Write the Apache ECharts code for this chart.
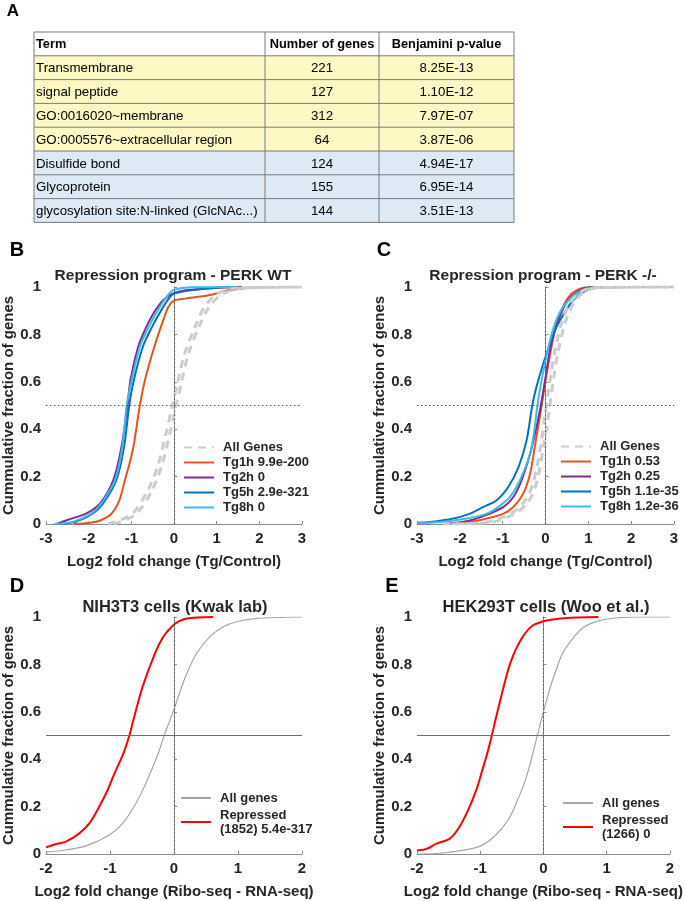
<!DOCTYPE html>
<html>
<head>
<meta charset="utf-8">
<script src="https://cdn.jsdelivr.net/npm/echarts@6/dist/echarts.min.js"></script>
<style>
  html, body { margin: 0; padding: 0; background: #fff; }
  #chart { width: 685px; height: 901px; }
</style>
</head>
<body>
<div id="chart"></div>
<script>
// ---- A: enrichment table ----
const tableHeader = ['Term', 'Number of genes', 'Benjamini p-value'];
const terms = ['Transmembrane', 'signal peptide', 'GO:0016020~membrane', 'GO:0005576~extracellular region',
  'Disulfide bond', 'Glycoprotein', 'glycosylation site:N-linked (GlcNAc...)'];
const geneCounts = [221, 127, 312, 64, 124, 155, 144];
const pValues = ['8.25E-13', '1.10E-12', '7.97E-07', '3.87E-06', '4.94E-17', '6.95E-14', '3.51E-13'];
const termGroup = ['y', 'y', 'y', 'y', 'b', 'b', 'b'];

// ---- B: PERK WT, [log2FC, cumulative fraction] ----
const wtAllA = [[-1.55,0],[-1.0,0.04],[-0.62,0.14],[-0.37,0.25],[-0.19,0.38],[-0.05,0.49],[0.09,0.6],[0.25,0.72],[0.49,0.83],[0.71,0.915],[1.0,0.97],[1.5,0.996],[3,1]];
const wtAllB = [[-1.42,0],[-0.9,0.04],[-0.52,0.14],[-0.28,0.25],[-0.1,0.38],[0.04,0.49],[0.18,0.6],[0.34,0.72],[0.58,0.83],[0.82,0.915],[1.13,0.97],[1.63,0.996],[3,1]];
const wtTg1h = [[-2.35,0],[-2.0,0.004],[-1.7,0.017],[-1.46,0.045],[-1.28,0.1],[-1.15,0.186],[-1.05,0.25],[-0.95,0.326],[-0.8,0.5],[-0.68,0.608],[-0.46,0.748],[-0.25,0.861],[-0.13,0.917],[0,0.942],[0.3,0.952],[0.84,0.966],[1.31,0.987],[2.0,0.999],[2.53,1]];
const wtTg2h = [[-2.75,0],[-2.5,0.017],[-2.05,0.045],[-1.73,0.087],[-1.42,0.186],[-1.23,0.326],[-1.09,0.5],[-1.02,0.608],[-0.84,0.748],[-0.68,0.819],[-0.48,0.889],[-0.25,0.945],[-0.02,0.973],[0.3,0.987],[1.0,0.996],[1.6,1]];
const wtTg5h = [[-2.7,0],[-2.3,0.01],[-1.9,0.045],[-1.66,0.087],[-1.35,0.186],[-1.17,0.326],[-1.05,0.5],[-0.94,0.608],[-0.73,0.748],[-0.55,0.819],[-0.34,0.889],[-0.09,0.959],[0.02,0.973],[0.45,0.987],[1.1,1]];
const wtTg8h = [[-2.8,0],[-2.36,0.01],[-1.93,0.045],[-1.7,0.087],[-1.38,0.186],[-1.21,0.326],[-1.11,0.5],[-0.99,0.608],[-0.8,0.748],[-0.625,0.819],[-0.42,0.889],[-0.17,0.959],[-0.02,0.987],[0.45,0.999],[1.45,1]];

// ---- C: PERK -/- ----
const koAllA = [[-2.4,0],[-1.37,0.008],[-0.8,0.045],[-0.47,0.1],[-0.28,0.18],[-0.12,0.32],[-0.01,0.46],[0.1,0.6],[0.22,0.73],[0.38,0.85],[0.6,0.94],[0.88,0.985],[1.25,0.998],[3,1]];
const koAllB = [[-2.2,0],[-1.25,0.008],[-0.7,0.045],[-0.38,0.1],[-0.2,0.18],[-0.05,0.32],[0.07,0.46],[0.18,0.6],[0.3,0.73],[0.46,0.85],[0.68,0.94],[0.96,0.985],[1.35,0.998],[3,1]];
const koTg1h = [[-2.4,0],[-1.76,0.008],[-1.37,0.023],[-0.98,0.044],[-0.75,0.072],[-0.52,0.128],[-0.36,0.212],[-0.25,0.325],[-0.09,0.5],[0.03,0.635],[0.14,0.748],[0.26,0.846],[0.49,0.945],[0.73,0.987],[1.04,0.999],[3,1]];
const koTg2h = [[-2.3,0],[-1.76,0.015],[-1.3,0.044],[-0.98,0.072],[-0.75,0.114],[-0.56,0.184],[-0.36,0.296],[-0.21,0.409],[-0.11,0.5],[-0.01,0.607],[0.12,0.748],[0.3,0.86],[0.53,0.945],[0.81,0.987],[1.04,0.999],[1.5,1]];
const koTg5h = [[-3,0.005],[-2.7,0.008],[-2.15,0.023],[-1.76,0.044],[-1.45,0.072],[-1.14,0.1],[-0.87,0.156],[-0.63,0.24],[-0.44,0.354],[-0.31,0.5],[-0.21,0.579],[-0.05,0.677],[0.18,0.8],[0.34,0.86],[0.65,0.945],[0.96,0.987],[1.27,0.998],[1.8,1]];
const koTg8h = [[-3,0.003],[-2.46,0.008],[-1.84,0.023],[-1.37,0.044],[-1.1,0.072],[-0.83,0.114],[-0.6,0.184],[-0.36,0.296],[-0.25,0.409],[-0.19,0.5],[-0.09,0.607],[0.07,0.748],[0.22,0.846],[0.42,0.917],[0.73,0.973],[1.12,0.999],[1.7,1]];

// ---- D: NIH3T3 ----
const nihAll = [[-2,0.008],[-1.69,0.017],[-1.375,0.034],[-1.01,0.08],[-0.8,0.13],[-0.594,0.214],[-0.44,0.298],[-0.245,0.425],[-0.156,0.498],[0.016,0.622],[0.12,0.706],[0.224,0.776],[0.354,0.847],[0.5625,0.917],[0.77,0.959],[0.98,0.98],[1.29,0.994],[2,1]];
const nihRepressed = [[-2,0.028],[-1.84,0.042],[-1.69,0.052],[-1.48,0.087],[-1.32,0.13],[-1.167,0.2],[-1.036,0.27],[-0.93,0.34],[-0.79,0.425],[-0.7,0.498],[-0.635,0.565],[-0.49,0.706],[-0.297,0.847],[-0.167,0.917],[-0.036,0.959],[0.068,0.98],[0.2,0.994],[0.61,1]];

// ---- E: HEK293T ----
const hekAll = [[-2,0],[-1.69,0.002],[-1.33,0.013],[-1.01,0.032],[-0.755,0.079],[-0.547,0.149],[-0.39,0.24],[-0.3,0.3],[-0.2,0.39],[-0.1,0.496],[-0.008,0.592],[0.11,0.705],[0.2,0.775],[0.3,0.845],[0.485,0.916],[0.64,0.958],[0.9,0.986],[1.2,0.997],[1.5,1],[2,1]];
const hekRepressed = [[-2,0.015],[-1.84,0.022],[-1.69,0.044],[-1.48,0.065],[-1.33,0.114],[-1.17,0.198],[-1.045,0.283],[-0.968,0.353],[-0.89,0.423],[-0.82,0.496],[-0.76,0.564],[-0.63,0.705],[-0.527,0.803],[-0.42,0.873],[-0.293,0.93],[-0.163,0.965],[-0.034,0.979],[0.07,0.986],[0.33,0.995],[0.87,1]];

const FONT = 'Liberation Sans, Arial, sans-serif';
const TXT = '#262626';
const AXC = '#8c8c8c';
const colors = { tg1: '#e2561e', tg2: '#7e2f8e', tg5: '#0072bd', tg8: '#3fb8ee', all: '#cccccc' };

const chart = echarts.init(document.getElementById('chart'));

// table drawing
const tLeft = 34, tRight = 514, tTop = 32, rowH = 23.8;
const colX = [34, 265, 379, 514];
const tableGfx = [];
const nRows = terms.length + 1;
for (let r = 0; r < nRows; r++) {
  const fill = r === 0 ? '#ffffff' : (termGroup[r - 1] === 'y' ? '#fdf8c4' : '#dde9f5');
  tableGfx.push({ type: 'rect', shape: { x: tLeft, y: tTop + r * rowH, width: tRight - tLeft, height: rowH }, style: { fill: fill } });
}
for (let r = 0; r <= nRows; r++) {
  tableGfx.push({ type: 'line', shape: { x1: tLeft, y1: tTop + r * rowH, x2: tRight, y2: tTop + r * rowH }, style: { stroke: '#7a7a7a', lineWidth: 1 } });
}
colX.forEach(x => {
  tableGfx.push({ type: 'line', shape: { x1: x, y1: tTop, x2: x, y2: tTop + nRows * rowH }, style: { stroke: '#7a7a7a', lineWidth: 1 } });
});
const cellFont = (bold) => (bold ? 'bold 12.8px ' : '13.3px ') + FONT;
tableHeader.forEach((h, i) => {
  tableGfx.push({ type: 'text', x: i === 0 ? colX[0] + 2 : (colX[i] + colX[i + 1]) / 2, y: tTop + rowH / 2 + 1,
    style: { text: h, font: cellFont(true), fill: '#000', align: i === 0 ? 'left' : 'center', verticalAlign: 'middle' } });
});
terms.forEach((t, k) => {
  const y = tTop + (k + 1.5) * rowH + 1;
  tableGfx.push({ type: 'text', x: colX[0] + 2, y: y, style: { text: t, font: cellFont(false), fill: '#000', align: 'left', verticalAlign: 'middle' } });
  tableGfx.push({ type: 'text', x: (colX[1] + colX[2]) / 2, y: y, style: { text: String(geneCounts[k]), font: cellFont(false), fill: '#000', align: 'center', verticalAlign: 'middle' } });
  tableGfx.push({ type: 'text', x: (colX[2] + colX[3]) / 2, y: y, style: { text: pValues[k], font: cellFont(false), fill: '#000', align: 'center', verticalAlign: 'middle' } });
});

// panel letters and titles
const label = (text, x, y, size) => ({ type: 'text', x: x, y: y,
  style: { text: text, font: 'bold ' + size + 'px ' + FONT, fill: '#000', align: 'center', verticalAlign: 'middle' } });
const titles = [
  label('A', 13, 11, 17), label('B', 17, 250, 20), label('C', 384, 250, 20), label('D', 17, 586, 20), label('E', 392, 586, 20),
  { type: 'text', x: 173, y: 276, style: { text: 'Repression program - PERK WT', font: 'bold 15.5px ' + FONT, fill: TXT, align: 'center', verticalAlign: 'middle' } },
  { type: 'text', x: 543, y: 276, style: { text: 'Repression program - PERK -/-', font: 'bold 15.5px ' + FONT, fill: TXT, align: 'center', verticalAlign: 'middle' } },
  { type: 'text', x: 175, y: 607, style: { text: 'NIH3T3 cells (Kwak lab)', font: 'bold 16.5px ' + FONT, fill: TXT, align: 'center', verticalAlign: 'middle' } },
  { type: 'text', x: 546, y: 607, style: { text: 'HEK293T cells (Woo et al.)', font: 'bold 16.5px ' + FONT, fill: TXT, align: 'center', verticalAlign: 'middle' } }
];

const grids = [
  { left: 46, top: 287, width: 256, height: 237 },
  { left: 417, top: 287, width: 257, height: 237 },
  { left: 46, top: 617, width: 256, height: 237 },
  { left: 417, top: 617, width: 257, height: 237 }
];

function xAxis(gi, min, max, name) {
  return {
    type: 'value', gridIndex: gi, min: min, max: max, interval: 1,
    name: name, nameLocation: 'middle', nameGap: 30,
    nameTextStyle: { fontFamily: FONT, fontWeight: 'bold', fontSize: 15, color: TXT },
    axisLine: { lineStyle: { color: AXC } },
    axisTick: { inside: true, length: 3, lineStyle: { color: AXC } },
    axisLabel: { fontFamily: FONT, fontWeight: 'bold', fontSize: 15, color: TXT, margin: 7 },
    splitLine: { show: false }
  };
}
function yAxis(gi) {
  return {
    type: 'value', gridIndex: gi, min: 0, max: 1, interval: 0.2,
    name: 'Cummulative fraction of genes', nameLocation: 'middle', nameGap: 30,
    nameTextStyle: { fontFamily: FONT, fontWeight: 'bold', fontSize: 15, color: TXT },
    axisLine: { show: true, lineStyle: { color: AXC } },
    axisTick: { show: true, inside: true, length: 3, lineStyle: { color: AXC } },
    axisLabel: { fontFamily: FONT, fontWeight: 'bold', fontSize: 15, color: TXT, margin: 5 },
    splitLine: { show: false }
  };
}

function cdf(name, data, gi, color, width, dashed) {
  return {
    type: 'line', name: name, xAxisIndex: gi, yAxisIndex: gi, data: data,
    symbol: 'none', smooth: 0.3, clip: true,
    lineStyle: { color: color, width: width, type: dashed ? [8, 6] : 'solid' },
    itemStyle: { color: color }
  };
}
function refLines(gi, solidHorizontal) {
  return {
    type: 'line', xAxisIndex: gi, yAxisIndex: gi, data: [], silent: true,
    markLine: {
      symbol: ['none', 'none'], silent: true, label: { show: false }, animation: false,
      data: [
        { xAxis: 0, lineStyle: { color: '#555', width: 1, type: [1.5, 2.5] } },
        { yAxis: 0.5, lineStyle: solidHorizontal ? { color: '#6e6e6e', width: 1, type: 'solid' } : { color: '#555', width: 1, type: [1.5, 2.5] } }
      ]
    }
  };
}

const legendBase = {
  orient: 'vertical', padding: 0, itemWidth: 30, itemHeight: 10, itemGap: 2, selectedMode: false,
  itemStyle: { opacity: 0 },
  textStyle: { fontFamily: FONT, fontWeight: 'bold', fontSize: 13, color: TXT, lineHeight: 13, padding: [0, 0, 0, 4] }
};

const option = {
  animation: false,
  graphic: tableGfx.concat(titles),
  grid: grids,
  xAxis: [
    xAxis(0, -3, 3, 'Log2 fold change (Tg/Control)'),
    xAxis(1, -3, 3, 'Log2 fold change (Tg/Control)'),
    xAxis(2, -2, 2, 'Log2 fold change (Ribo-seq - RNA-seq)'),
    xAxis(3, -2, 2, 'Log2 fold change (Ribo-seq - RNA-seq)')
  ],
  yAxis: [yAxis(0), yAxis(1), yAxis(2), yAxis(3)],
  legend: [
    Object.assign({}, legendBase, { left: 183, top: 441, data: ['All Genes', 'Tg1h 9.9e-200', 'Tg2h 0', 'Tg5h 2.9e-321', 'Tg8h 0'] }),
    Object.assign({}, legendBase, { left: 560, top: 440, data: ['All Genes', 'Tg1h 0.53', 'Tg2h 0.25', 'Tg5h 1.1e-35', 'Tg8h 1.2e-36'] }),
    Object.assign({}, legendBase, { left: 180, top: 791, itemGap: 3, textStyle: Object.assign({}, legendBase.textStyle, { lineHeight: 14 }), data: ['All genes', 'Repressed\n(1852) 5.4e-317'] }),
    Object.assign({}, legendBase, { left: 562, top: 796, itemGap: 3, textStyle: Object.assign({}, legendBase.textStyle, { lineHeight: 14 }), data: ['All genes', 'Repressed\n(1266) 0'] })
  ],
  series: [
    refLines(0, false), refLines(1, false), refLines(2, true), refLines(3, true),
    cdf('Tg1h 9.9e-200', wtTg1h, 0, colors.tg1, 2),
    cdf('Tg2h 0', wtTg2h, 0, colors.tg2, 2),
    cdf('Tg5h 2.9e-321', wtTg5h, 0, colors.tg5, 2),
    cdf('Tg8h 0', wtTg8h, 0, colors.tg8, 2),
    cdf('All Genes', wtAllA, 0, colors.all, 3, true),
    cdf('All Genes', wtAllB, 0, colors.all, 3, true),
    cdf('Tg1h 0.53', koTg1h, 1, colors.tg1, 2),
    cdf('Tg2h 0.25', koTg2h, 1, colors.tg2, 2),
    cdf('Tg5h 1.1e-35', koTg5h, 1, colors.tg5, 2),
    cdf('Tg8h 1.2e-36', koTg8h, 1, colors.tg8, 2),
    cdf('All Genes', koAllA, 1, colors.all, 3, true),
    cdf('All Genes', koAllB, 1, colors.all, 3, true),
    cdf('All genes', nihAll, 2, '#a6a6a6', 1.2),
    cdf('Repressed\n(1852) 5.4e-317', nihRepressed, 2, '#ff0000', 2),
    cdf('All genes', hekAll, 3, '#a6a6a6', 1.2),
    cdf('Repressed\n(1266) 0', hekRepressed, 3, '#ff0000', 2)
  ]
};
chart.setOption(option);
</script>
</body>
</html>
